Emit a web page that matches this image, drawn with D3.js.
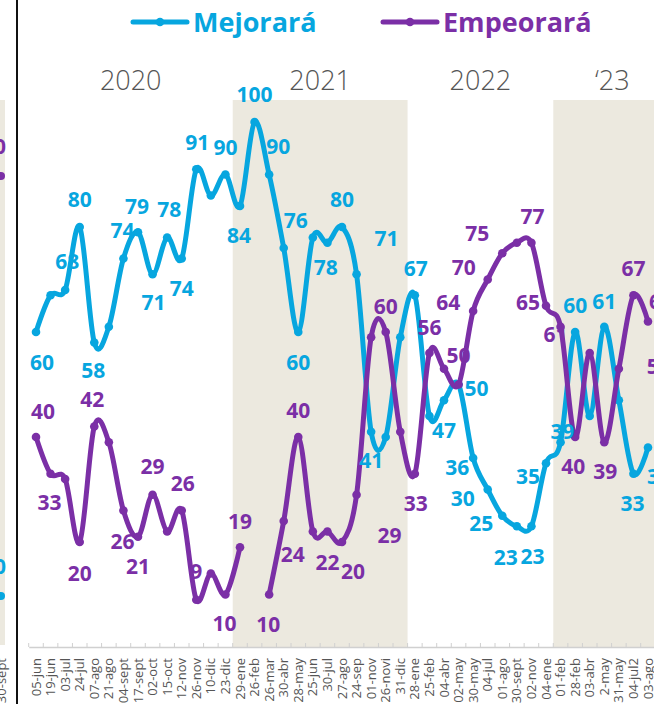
<!DOCTYPE html>
<html>
<head>
<meta charset="utf-8">
<script src="https://cdn.jsdelivr.net/npm/d3@7"></script>
<style>
  body { margin: 0; background: #fff; }
  svg { display: block; font-family: "Open Sans", sans-serif; }
</style>
</head>
<body>
<svg id="chart"></svg>
<script>
// categories (survey dates)
const fechas = ["05-jun","19-jun","03-jul","24-jul","07-ago","21-ago","04-sept","17-sept","02-oct","15-oct",
  "12-nov","26-nov","10-dic","23-dic","29-ene","26-feb","26-mar","30-abr","28-may","25-jun",
  "30-jul","27-ago","24-sep","01-nov","26-novi","31-dic","28-ene","25-feb","04-abr","02-may",
  "30-may","04-jul","01-ago","30-sept","02-nov","04-ene","01-feb","28-feb","03-abr","2-may",
  "31-may","04-jul2","03-ago"];

const mejorara = [60,67,68,80,58,61,74,79,71,78,
  74,91,86,90,84,100,90,76,60,78,
  77,80,71,41,40,59,67,44,47,50,
  36,30,25,23,23,35,39,60,44,61,
  47,33,38];

const empeorara = [40,33,32,20,42,39,26,21,29,22,
  26,9,14,10,19,null,10,24,40,22,
  22,20,29,59,60,41,33,56,53,50,
  64,70,75,77,77,65,61,40,56,39,
  53,67,62];

const years = [
  {label: "2020", from: "05-jun", to: "23-dic"},
  {label: "2021", from: "29-ene", to: "31-dic"},
  {label: "2022", from: "28-ene", to: "04-ene"},
  {label: "\u201823", from: "01-feb", to: "03-ago"}
];
const shaded = [["29-ene","31-dic"],["01-feb","03-ago"]];

// label placement (offsets from the marker), by point index
const blueLabelPos = {0:[6,30],2:[2,-29],3:[0,-28],4:[-1,28],6:[-1,-28],7:[-1,-26],8:[1,28],9:[2,-28],
  10:[0,30],11:[1,-27],13:[0,-27],14:[-1,29],15:[0,-28],16:[9,-28],17:[12,-28],18:[0,30],19:[13,30],
  21:[0,-28],22:[30,-36],23:[0,29],26:[1,-27],28:[0,30],29:[18,4],30:[-16,9],31:[-25,9],32:[-21,8],
  33:[-11,31],34:[1,30],35:[-18,13],36:[2,-11],37:[0,-27],39:[0,-25],41:[-1,30],42:[11,29]};
const purpleLabelPos = {0:[7,-26],1:[-1,29],3:[0,31],4:[-2,-27],6:[-1,31],7:[0,30],8:[0,-28],10:[1,-27],
  11:[0,-28],13:[-1,29],14:[0,-26],16:[-1,30],17:[9,33],18:[0,-27],20:[0,31],21:[11,29],22:[33,41],
  24:[0,-26],26:[1,30],27:[0,-26],29:[0,-29],30:[-25,-9],31:[-24,-12],32:[-25,-20],34:[1,-26],
  35:[-18,-3],36:[-5,8],37:[-2,29],39:[1,29],41:[0,-27],42:[13,-20],40:[40,-2]};

const width = 654, height = 704;
const blue = "#07a6df", purple = "#7b2fa6", band = "#ece9df";

const svg = d3.select("#chart").attr("width", width).attr("height", height);

const step = (648 - 36) / (fechas.length - 1);
const x = d3.scaleBand().domain(fechas).range([36 - step / 2, 648 + step / 2]);
const cx = d => x(d) + x.bandwidth() / 2;
const y = d3.scaleLinear().domain([0, 100]).range([647, 122]);

// bit of the neighbouring panel on the left
svg.append("rect").attr("x", 0).attr("y", 100).attr("width", 5).attr("height", 545).attr("fill", band);
svg.append("text").attr("x", 6).attr("y", 154).attr("text-anchor", "end")
  .attr("fill", purple).style("font-weight", 700).style("font-size", "21px").text("60");
svg.append("circle").attr("cx", 1).attr("cy", 176).attr("r", 4).attr("fill", purple);
svg.append("text").attr("x", 6).attr("y", 574).attr("text-anchor", "end")
  .attr("fill", blue).style("font-weight", 700).style("font-size", "21px").text("40");
svg.append("circle").attr("cx", 1).attr("cy", 596).attr("r", 4).attr("fill", blue);
svg.append("text").attr("transform", "translate(6,658) rotate(-90)").attr("text-anchor", "end")
  .attr("fill", "#555").style("font-size", "13px").text("30-sept");
svg.append("line").attr("x1", 17).attr("x2", 17).attr("y1", 0).attr("y2", height)
  .attr("stroke", "#111").attr("stroke-width", 2);

// shaded years
svg.selectAll(".band").data(shaded).join("rect")
  .attr("x", d => x(d[0]))
  .attr("y", 100)
  .attr("width", d => x(d[1]) + x.bandwidth() - x(d[0]))
  .attr("height", 547)
  .attr("fill", band);

// year labels
svg.selectAll(".year").data(years).join("text")
  .attr("x", d => (cx(d.from) + cx(d.to)) / 2 + (d.label.length < 4 ? 8 : 0))
  .attr("y", 90)
  .attr("text-anchor", "middle")
  .attr("fill", "#555")
  .style("font-size", "27px")
  .style("font-weight", 300)
  .text(d => d.label);

// axis
const axis = svg.append("g").attr("transform", "translate(0,647)")
  .call(d3.axisBottom(x).tickSize(0).tickFormat(d => d));
axis.select(".domain").attr("stroke", "#d0d0d0").attr("stroke-width", 1.5);
axis.selectAll("text")
  .attr("transform", "rotate(-90)")
  .attr("x", -11).attr("y", 0).attr("dy", "0.35em")
  .attr("text-anchor", "end")
  .attr("fill", "#555")
  .style("font-size", "13px")
  .style("font-family", "'Open Sans', sans-serif");
svg.append("g").selectAll("line").data(fechas.concat(["end"])).join("line")
  .attr("x1", (d, i) => i < fechas.length ? x(d) : x(fechas[i - 1]) + x.bandwidth())
  .attr("x2", (d, i) => i < fechas.length ? x(d) : x(fechas[i - 1]) + x.bandwidth())
  .attr("y1", 643).attr("y2", 647)
  .attr("stroke", "#d0d0d0").attr("stroke-width", 1);

// series
const series = [
  {name: "Mejorará", values: mejorara, color: blue, labels: blueLabelPos},
  {name: "Empeorará", values: empeorara, color: purple, labels: purpleLabelPos}
];

const line = d3.line()
  .defined(d => d.v != null)
  .x(d => cx(d.f))
  .y(d => y(d.v))
  .curve(d3.curveCardinal.tension(0));

series.forEach(s => {
  const pts = fechas.map((f, i) => ({f: f, v: s.values[i], i: i}));
  svg.append("path").datum(pts)
    .attr("d", line)
    .attr("fill", "none")
    .attr("stroke", s.color)
    .attr("stroke-width", 5)
    .attr("stroke-linejoin", "round");
  svg.append("g").selectAll("circle").data(pts.filter(d => d.v != null)).join("circle")
    .attr("cx", d => cx(d.f))
    .attr("cy", d => y(d.v))
    .attr("r", 4.3)
    .attr("fill", s.color);
  s.pts = pts;
});

series.forEach(s => {
  svg.append("g").selectAll("text").data(s.pts.filter(d => s.labels[d.i] && d.v != null)).join("text")
    .attr("x", d => cx(d.f) + s.labels[d.i][0])
    .attr("y", d => y(d.v) + s.labels[d.i][1])
    .attr("dy", "0.36em")
    .attr("text-anchor", "middle")
    .attr("fill", s.color)
    .style("font-size", "21px")
    .style("font-weight", 700)
    .text(d => d.v);
});

// legend
const legend = svg.append("g");
const legendItems = [{x: 133, s: series[0]}, {x: 383, s: series[1]}];
legendItems.forEach(l => {
  const g = legend.append("g").attr("transform", `translate(${l.x},22)`);
  g.append("line").attr("x1", 0).attr("x2", 54).attr("stroke", l.s.color)
    .attr("stroke-width", 5).attr("stroke-linecap", "round");
  g.append("circle").attr("cx", 27).attr("r", 4.3).attr("fill", l.s.color);
  g.append("text").attr("x", 60).attr("dy", "0.36em").attr("fill", l.s.color)
    .style("font-size", "27px").style("font-weight", 700).text(l.s.name);
});
</script>
</body>
</html>
